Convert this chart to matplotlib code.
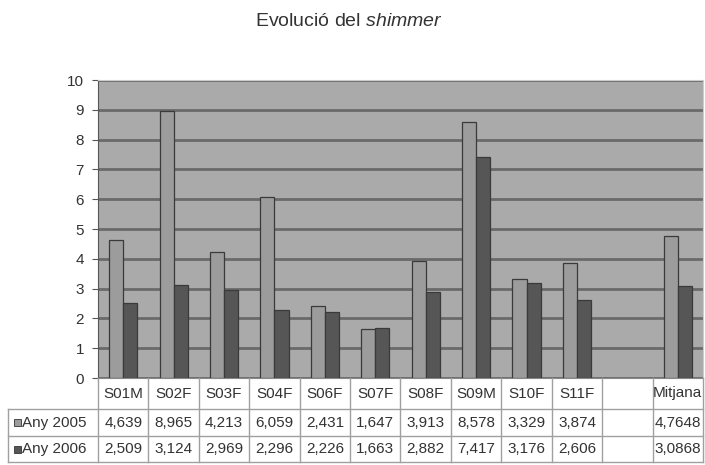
import numpy as np
import matplotlib
matplotlib.use("Agg")
import matplotlib.pyplot as plt
from matplotlib.transforms import blended_transform_factory
from matplotlib.patches import Rectangle

plt.rcParams['font.family'] = ['Liberation Sans', 'DejaVu Sans']
plt.rcParams['mathtext.fontset'] = 'custom'
plt.rcParams['mathtext.rm'] = 'Liberation Sans'
plt.rcParams['mathtext.it'] = 'Liberation Sans:italic'

# dades del shimmer per locutor (buit = columna sense dades)
categories = ["S01M", "S02F", "S03F", "S04F", "S06F", "S07F", "S08F",
              "S09M", "S10F", "S11F", "", "Mitjana"]
any_2005 = [4.639, 8.965, 4.213, 6.059, 2.431, 1.647, 3.913, 8.578, 3.329, 3.874, None, 4.7648]
any_2006 = [2.509, 3.124, 2.969, 2.296, 2.226, 1.663, 2.882, 7.417, 3.176, 2.606, None, 3.0868]
series_names = ["Any 2005", "Any 2006"]
yticks = list(range(0, 11))

W, H = 705, 465
fig = plt.figure(figsize=(W / 100, H / 100), dpi=100)

def fy(py):
    return 1 - py / H

def fx(px):
    return px / W

ax_left, ax_right, ax_top, ax_bot = 98, 703, 80, 378
ax = fig.add_axes([fx(ax_left), fy(ax_bot), fx(ax_right - ax_left), (ax_bot - ax_top) / H])
ax.set_facecolor('#aaaaaa')

colors = ['#9c9c9c', '#565656']
bw = 0.28
x = np.arange(len(categories))
for k, serie in enumerate([any_2005, any_2006]):
    idx = [i for i, v in enumerate(serie) if v is not None]
    vals = [serie[i] for i in idx]
    ax.bar(x[idx] + (k - 0.5) * bw, vals, width=bw, color=colors[k],
           edgecolor='#3a3a3a', linewidth=0.9, zorder=3)

ax.set_xlim(-0.5, len(categories) - 0.5)
ax.set_ylim(0, 10)
ax.set_yticks(yticks)
ax.set_yticklabels([str(t) for t in yticks], fontsize=11, color='#333333')
ax.set_xticks([])
ax.yaxis.grid(True, color='#6a6a6a', linewidth=2, zorder=1)
ax.set_axisbelow(True)
ax.tick_params(axis='y', length=4, color='#555555', pad=6)
for s in ['top', 'right']:
    ax.spines[s].set_color('#cccccc')
ax.spines['left'].set_color('#555555')
ax.spines['bottom'].set_color('#888888')

# títol
fig.text(0.495, fy(22), r"Evolució del $\it{shimmer}$", ha='center', va='center',
         fontsize=14, color='#333333')

# taula de dades sota el gràfic
tr = blended_transform_factory(ax.transData, fig.transFigure)
row_edges = [378, 409, 436, 462]
line_c = '#a0a0a0'
label_left = 8

# línies horitzontals
for py in row_edges[1:]:
    fig.add_artist(plt.Line2D([fx(label_left), fx(ax_right)], [fy(py), fy(py)],
                              color=line_c, lw=1))
# línies verticals entre columnes
for i in range(len(categories) + 1):
    xe = i - 0.5
    fig.add_artist(plt.Line2D([xe, xe], [fy(row_edges[0]), fy(row_edges[-1])],
                              transform=tr, color=line_c, lw=1))
fig.add_artist(plt.Line2D([fx(label_left), fx(label_left)], [fy(row_edges[1]), fy(row_edges[-1])],
                          color=line_c, lw=1))

def fmt(v):
    return "" if v is None else str(v).replace('.', ',')

cy = [(row_edges[r] + row_edges[r + 1]) / 2 for r in range(3)]
for i, cat in enumerate(categories):
    fig.text(i, fy(cy[0]), cat, transform=tr, ha='center', va='center',
             fontsize=11, color='#333333')
    for r, serie in enumerate([any_2005, any_2006]):
        fig.text(i, fy(cy[r + 1]), fmt(serie[i]), transform=tr, ha='center',
                 va='center', fontsize=11, color='#333333')

# etiquetes de fila amb la clau de color
for r, name in enumerate(series_names):
    py = cy[r + 1]
    fig.add_artist(Rectangle((fx(14), fy(py + 3.5)), fx(7), 7 / H, facecolor=colors[r],
                             edgecolor='#333333', lw=0.6))
    fig.text(fx(22), fy(py), name, ha='left', va='center', fontsize=11, color='#333333')

fig.savefig("out.png", dpi=100)
